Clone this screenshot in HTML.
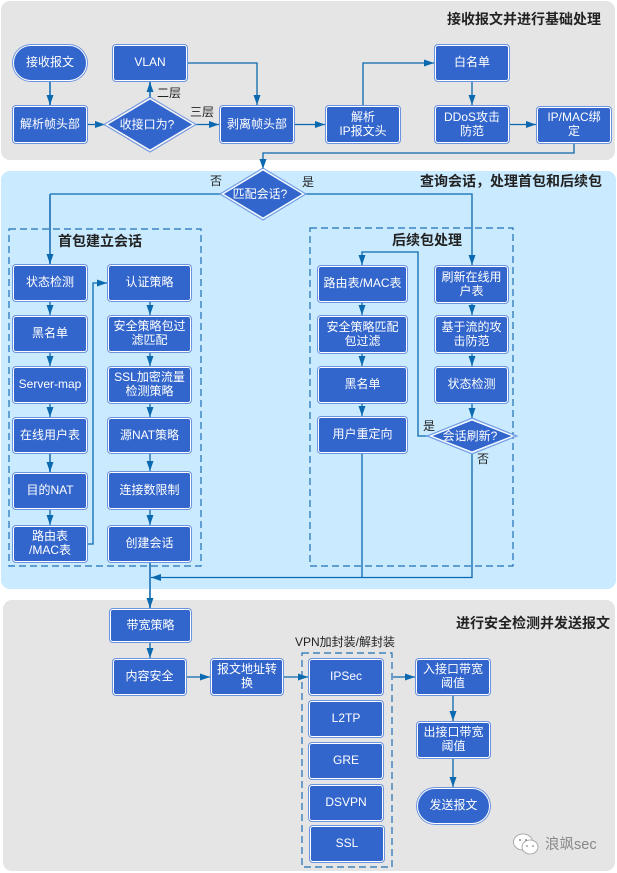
<!DOCTYPE html>
<html>
<head>
<meta charset="utf-8">
<style>
html,body{margin:0;padding:0;background:#fff}
#c{position:relative;width:617px;height:873px;overflow:hidden;font-family:"Liberation Sans","Noto Sans CJK SC",sans-serif}
svg{position:absolute;left:0;top:0}
.b{position:absolute;box-sizing:border-box;padding-bottom:2px;background:#3366cc;border:1px solid #fff;box-shadow:0 0 0 1px #6c93e0;border-radius:3px;color:#fff;font-size:12px;line-height:14px;display:flex;align-items:center;justify-content:center;text-align:center}
.p{border-radius:19px}
.t{position:absolute;white-space:nowrap;color:#222;font-size:12px;line-height:14px}
.h{font-weight:bold;font-size:14px;line-height:16px;color:#222}
.l{fill:none;stroke:#0b69b0;stroke-width:1.3}
.k{fill:none;stroke:#3d88c2;stroke-width:2}
.d{fill:none;stroke:#1f70b5;stroke-width:1.2;stroke-dasharray:7 4}
.dm{fill:#3366cc;stroke:#fff;stroke-width:1}
.do{fill:none;stroke:#6c93e0;stroke-width:1}
svg text{font-family:"Liberation Sans","Noto Sans CJK SC",sans-serif;font-size:12px;fill:#fff;text-anchor:middle}
</style>
</head>
<body>
<div id="c">
<svg width="617" height="873" viewBox="0 0 617 873">
<defs>
<marker id="a" markerUnits="userSpaceOnUse" markerWidth="11" markerHeight="10" refX="10" refY="5" orient="auto"><path d="M0 1.500L10 5L0 8.500z" fill="#0b69b0"/></marker>
</defs>
<rect x="1" y="1" width="614" height="159" rx="9" fill="#e5e5e5"/>
<rect x="1" y="171" width="615" height="418" rx="9" fill="#c9eaff"/>
<rect x="3" y="600" width="612" height="271" rx="9" fill="#e5e5e5"/>
<rect class="d" x="9" y="229" width="192" height="337"/>
<rect class="d" x="310" y="228" width="203" height="338"/>
<rect class="d" x="302" y="653" width="90" height="214"/>

<path class="k" d="M50 81V105" marker-end="url(#a)"/>
<path class="l" d="M87 124.500H105" marker-end="url(#a)"/>
<path class="k" d="M150 98V82" marker-end="url(#a)"/>
<path class="l" d="M195 124.500H219" marker-end="url(#a)"/>
<path class="l" d="M187 63H257V105" marker-end="url(#a)"/>
<path class="l" d="M294 124.500H325" marker-end="url(#a)"/>
<path class="l" d="M363 106V63H434" marker-end="url(#a)"/>
<path class="l" d="M472 81V105" marker-end="url(#a)"/>
<path class="l" d="M509 124.500H536" marker-end="url(#a)"/>
<path class="l" d="M574 143V153H263V169" marker-end="url(#a)"/>
<path class="l" d="M221 194H50" />
<path class="k" d="M50 194V264" marker-end="url(#a)"/>
<path class="l" d="M305 194H472V265" marker-end="url(#a)"/>

<path class="l" d="M50 301V315" marker-end="url(#a)"/>
<path class="l" d="M50 352V366" marker-end="url(#a)"/>
<path class="l" d="M50 403V417" marker-end="url(#a)"/>
<path class="k" d="M50 453V472" marker-end="url(#a)"/>
<path class="l" d="M50 509V525" marker-end="url(#a)"/>
<path class="l" d="M150 301V315" marker-end="url(#a)"/>
<path class="l" d="M150 352V366" marker-end="url(#a)"/>
<path class="l" d="M150 403V417" marker-end="url(#a)"/>
<path class="l" d="M150 453V471" marker-end="url(#a)"/>
<path class="l" d="M150 509V525" marker-end="url(#a)"/>
<path class="l" d="M87 544H93V283H107" marker-end="url(#a)"/>
<path class="k" d="M150 562V608" marker-end="url(#a)"/>
<path class="l" d="M472 454V577.500H151" marker-end="url(#a)"/>
<path class="l" d="M362 453V577"/>
<path class="l" d="M428 436H418V252H362V265" marker-end="url(#a)"/>
<path class="l" d="M362 302V315" marker-end="url(#a)"/>
<path class="l" d="M362 353V366" marker-end="url(#a)"/>
<path class="l" d="M362 403V416" marker-end="url(#a)"/>
<path class="l" d="M472 303V315" marker-end="url(#a)"/>
<path class="l" d="M472 353V366" marker-end="url(#a)"/>
<path class="l" d="M472 403V418" marker-end="url(#a)"/>

<path class="l" d="M150 642V658" marker-end="url(#a)"/>
<path class="l" d="M186 677H210" marker-end="url(#a)"/>
<path class="l" d="M283 677H308" marker-end="url(#a)"/>
<path class="l" d="M393 677H415" marker-end="url(#a)"/>
<path class="l" d="M453 695V721" marker-end="url(#a)"/>
<path class="l" d="M453 758V787" marker-end="url(#a)"/>

<polygon class="do" points="150,97 196,124.500 150,152 104,124.500"/>
<polygon class="dm" points="150,99 193,124.500 150,150 107,124.500"/>
<text x="147" y="128.500">收接口为?</text>
<polygon class="do" points="263,168 306,194 263,220 220,194"/>
<polygon class="dm" points="263,170 303,194 263,218 223,194"/>
<text x="260" y="198">匹配会话?</text>
<polygon class="do" points="472,418 517,436 472,454 427,436"/>
<polygon class="dm" points="472,420 513,436 472,452 431,436"/>
<text x="470" y="440">会话刷新?</text>

<g transform="translate(513,833)" fill="#fff" stroke="#999" stroke-width="0.8">
<ellipse cx="10" cy="9" rx="9.500" ry="8"/>
<ellipse cx="17" cy="14" rx="8" ry="7"/>
<circle cx="7" cy="7" r="1" fill="#888" stroke="none"/>
<circle cx="13" cy="7" r="1" fill="#888" stroke="none"/>
<circle cx="14" cy="13" r="0.900" fill="#888" stroke="none"/>
<circle cx="20" cy="13" r="0.900" fill="#888" stroke="none"/>
</g>
</svg>

<div class="t h" style="right:16px;top:11px">接收报文并进行基础处理</div>
<div class="t h" style="right:15px;top:173px">查询会话，处理首包和后续包</div>
<div class="t h" style="left:58px;top:233px">首包建立会话</div>
<div class="t h" style="left:392px;top:232px">后续包处理</div>
<div class="t h" style="right:7px;top:615px">进行安全检测并发送报文</div>
<div class="t" style="left:157px;top:86px">二层</div>
<div class="t" style="left:190px;top:105px">三层</div>
<div class="t" style="left:210px;top:174px">否</div>
<div class="t" style="left:302px;top:175px">是</div>
<div class="t" style="left:423px;top:419px">是</div>
<div class="t" style="left:477px;top:452px">否</div>
<div class="t" style="left:295px;top:635px">VPN加封装/解封装</div>
<div class="t" style="left:545px;top:836px;color:#888;font-size:14.500px;line-height:18px">浪飒sec</div>

<div class="b p" style="left:13px;top:45px;width:74px;height:36px">接收报文</div>
<div class="b" style="left:113px;top:45px;width:74px;height:36px">VLAN</div>
<div class="b" style="left:13px;top:106px;width:74px;height:37px">解析帧头部</div>
<div class="b" style="left:220px;top:106px;width:74px;height:37px">剥离帧头部</div>
<div class="b" style="left:326px;top:106px;width:74px;height:37px">解析<br>IP报文头</div>
<div class="b" style="left:435px;top:45px;width:74px;height:36px">白名单</div>
<div class="b" style="left:435px;top:106px;width:74px;height:37px">DDoS攻击<br>防范</div>
<div class="b" style="left:537px;top:107px;width:74px;height:36px">IP/MAC绑<br>定</div>

<div class="b" style="left:13px;top:265px;width:74px;height:36px">状态检测</div>
<div class="b" style="left:13px;top:316px;width:74px;height:36px">黑名单</div>
<div class="b" style="left:13px;top:367px;width:74px;height:36px">Server-map</div>
<div class="b" style="left:13px;top:418px;width:74px;height:35px">在线用户表</div>
<div class="b" style="left:13px;top:473px;width:74px;height:36px">目的NAT</div>
<div class="b" style="left:13px;top:526px;width:74px;height:36px">路由表<br>/MAC表</div>

<div class="b" style="left:108px;top:265px;width:83px;height:36px">认证策略</div>
<div class="b" style="left:108px;top:316px;width:83px;height:36px">安全策略包过<br>滤匹配</div>
<div class="b" style="left:108px;top:367px;width:83px;height:36px">SSL加密流量<br>检测策略</div>
<div class="b" style="left:108px;top:418px;width:83px;height:35px">源NAT策略</div>
<div class="b" style="left:108px;top:472px;width:83px;height:37px">连接数限制</div>
<div class="b" style="left:108px;top:526px;width:83px;height:36px">创建会话</div>

<div class="b" style="left:318px;top:266px;width:89px;height:36px">路由表/MAC表</div>
<div class="b" style="left:318px;top:316px;width:89px;height:37px">安全策略匹配<br>包过滤</div>
<div class="b" style="left:318px;top:367px;width:89px;height:36px">黑名单</div>
<div class="b" style="left:318px;top:417px;width:89px;height:36px">用户重定向</div>

<div class="b" style="left:435px;top:266px;width:73px;height:37px">刷新在线用<br>户表</div>
<div class="b" style="left:435px;top:316px;width:73px;height:37px">基于流的攻<br>击防范</div>
<div class="b" style="left:435px;top:367px;width:73px;height:36px">状态检测</div>

<div class="b" style="left:110px;top:609px;width:81px;height:33px">带宽策略</div>
<div class="b" style="left:113px;top:659px;width:73px;height:36px">内容安全</div>
<div class="b" style="left:211px;top:659px;width:72px;height:36px">报文地址转<br>换</div>

<div class="b" style="left:309px;top:659px;width:74px;height:36px">IPSec</div>
<div class="b" style="left:309px;top:701px;width:74px;height:36px">L2TP</div>
<div class="b" style="left:309px;top:743px;width:74px;height:36px">GRE</div>
<div class="b" style="left:309px;top:785px;width:74px;height:36px">DSVPN</div>
<div class="b" style="left:310px;top:826px;width:74px;height:36px">SSL</div>

<div class="b" style="left:416px;top:659px;width:74px;height:36px">入接口带宽<br>阈值</div>
<div class="b" style="left:417px;top:722px;width:73px;height:36px">出接口带宽<br>阈值</div>
<div class="b p" style="left:417px;top:788px;width:73px;height:36px">发送报文</div>
</div>
</body>
</html>
